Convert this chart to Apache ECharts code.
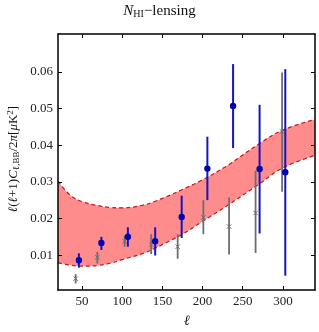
<!DOCTYPE html>
<html>
<head>
<meta charset="utf-8">
<script src="https://cdn.jsdelivr.net/npm/echarts@6/dist/echarts.min.js"></script>
<style>
html,body{margin:0;padding:0;background:#fff;}
#chart{width:319px;height:332px;}
</style>
</head>
<body>
<div id="chart"></div>
<script>
// ---- data ----
var bandL     = [20, 35, 50, 70, 85, 100, 125, 141, 160, 175, 197, 230, 270, 300, 340];
var bandUpper = [0.0302, 0.0264, 0.0246, 0.0235, 0.0230, 0.0229, 0.0236, 0.0247, 0.0264, 0.0279, 0.0302, 0.0343, 0.0403, 0.0441, 0.0470];
var bandLower = [0.0079, 0.0073, 0.0070, 0.0072, 0.0078, 0.0088, 0.0104, 0.0119, 0.0140, 0.0157, 0.0188, 0.0234, 0.0293, 0.0338, 0.0372];

var blueL  = [46, 74, 107, 141, 174, 206, 238, 271, 303];
var blueV  = [0.0086, 0.0133, 0.0150, 0.0138, 0.0204, 0.0336, 0.0507, 0.0335, 0.0326];
var blueLo = [0.0066, 0.0114, 0.0123, 0.0099, 0.0147, 0.0250, 0.0392, 0.0159, 0.0044];
var blueHi = [0.0105, 0.0150, 0.0176, 0.0176, 0.0262, 0.0423, 0.0621, 0.0510, 0.0607];

var grayL  = [42, 69, 103, 136, 169, 201, 233, 266, 299];
var grayV  = [0.0036, 0.0094, 0.0138, 0.0129, 0.0123, 0.0203, 0.0178, 0.0215, 0.0437];
var grayLo = [0.0023, 0.0077, 0.0123, 0.0103, 0.0090, 0.0157, 0.0102, 0.0106, 0.0273];
var grayHi = [0.0048, 0.0109, 0.0153, 0.0157, 0.0157, 0.0250, 0.0257, 0.0330, 0.0598];

var xTicks = [50, 100, 150, 200, 250, 300];
var yTicks = [0.01, 0.02, 0.03, 0.04, 0.05, 0.06];

// ---- build ----
var SERIF = '"Liberation Serif","DejaVu Serif",serif';
function pairs(xs, ys){ return xs.map(function(x,i){ return [x, ys[i]]; }); }
function rows(xs, v, lo, hi){ return xs.map(function(x,i){ return [x, v[i], lo[i], hi[i]]; }); }

var chart = echarts.init(document.getElementById('chart'), null, {renderer:'canvas'});

function xAx(pos, labels){
  return {
    type:'value', min:20, max:340, position:pos, z:10,
    axisLine:{show:true, onZero:false, lineStyle:{color:'#000', width:1.5}},
    axisTick:{show:true, inside:true, length:4, customValues:xTicks, lineStyle:{color:'#000', width:1}},
    axisLabel:{show:labels, customValues:xTicks, fontFamily:SERIF, fontSize:13, color:'#222', margin:5},
    splitLine:{show:false}
  };
}
function yAx(pos, labels){
  return {
    type:'value', min:0.0005, max:0.0703, position:pos, z:10,
    axisLine:{show:true, onZero:false, lineStyle:{color:'#000', width:1.5}},
    axisTick:{show:true, inside:true, length:4, customValues:yTicks, lineStyle:{color:'#000', width:1}},
    axisLabel:{show:labels, customValues:yTicks, fontFamily:SERIF, fontSize:13, color:'#222', margin:5,
      formatter:function(v){ return v.toFixed(2); }},
    splitLine:{show:false}
  };
}

function errRender(color, lw, kind){
  return function(params, api){
    var x = api.value(0);
    var c  = api.coord([x, api.value(1)]);
    var lo = api.coord([x, api.value(2)]);
    var hi = api.coord([x, api.value(3)]);
    var ch = [{type:'line', shape:{x1:lo[0], y1:lo[1], x2:hi[0], y2:hi[1]}, style:{stroke:color, lineWidth:lw}}];
    if (kind === 'dot') {
      ch.push({type:'circle', shape:{cx:c[0], cy:c[1], r:3.2}, style:{fill:'#0000b4'}});
    } else {
      var s = 2.2;
      ch.push({type:'line', shape:{x1:c[0]-s, y1:c[1]-s, x2:c[0]+s, y2:c[1]+s}, style:{stroke:color, lineWidth:1}});
      ch.push({type:'line', shape:{x1:c[0]+s, y1:c[1]-s, x2:c[0]-s, y2:c[1]+s}, style:{stroke:color, lineWidth:1}});
    }
    return {type:'group', children:ch};
  };
}

var option = {
  animation:false,
  backgroundColor:'#fff',
  grid:{left:58, right:4, top:34, bottom:42, containLabel:false},
  xAxis:[xAx('bottom', true), xAx('top', false)],
  yAxis:[yAx('left', true), yAx('right', false)],
  series:[
    {type:'line', data:pairs(bandL, bandUpper), smooth:0.4, symbol:'none',
      lineStyle:{opacity:0}, areaStyle:{color:'#ff8c8c', opacity:1, origin:'start'}, silent:true, z:1},
    {type:'line', data:pairs(bandL, bandLower), smooth:0.4, symbol:'none',
      lineStyle:{opacity:0}, areaStyle:{color:'#ffffff', opacity:1, origin:'start'}, silent:true, z:1},
    {type:'line', data:pairs(bandL, bandUpper), smooth:0.4, symbol:'none',
      lineStyle:{color:'#c0181c', width:1.2, type:[4,3]}, z:2},
    {type:'line', data:pairs(bandL, bandLower), smooth:0.4, symbol:'none',
      lineStyle:{color:'#c0181c', width:1.2, type:[4,3]}, z:2},
    {type:'custom', data:rows(grayL, grayV, grayLo, grayHi), renderItem:errRender('#6e6e6e', 1.8, 'x'), z:3},
    {type:'custom', data:rows(blueL, blueV, blueLo, blueHi), renderItem:errRender('#1515c0', 2, 'dot'), z:4}
  ],
  graphic:[
    {type:'text', left:'center', top:3, z:10,
      style:{
        text:'{n|N}{s|HI}{t|−lensing}',
        rich:{
          n:{fontFamily:SERIF, fontStyle:'italic', fontSize:15, fill:'#111', lineHeight:20, verticalAlign:'middle'},
          s:{fontFamily:SERIF, fontSize:10, fill:'#111', lineHeight:20, padding:[6,0,0,0], verticalAlign:'middle'},
          t:{fontFamily:SERIF, fontSize:15, fill:'#111', lineHeight:20, verticalAlign:'middle'}
        }
      }
    },
    {type:'text', x:187, y:321, z:10,
      style:{text:'ℓ', fontFamily:SERIF, fontStyle:'italic', fontSize:14, fill:'#111', align:'center', verticalAlign:'middle'}
    },
    {type:'text', x:14, y:159, rotation:Math.PI/2, z:10,
      style:{
        text:'{i|ℓ}{r|(}{i|ℓ}{r|+1)}{i|C}{s|ℓ,BB}{r|/2}{i|π}{r|[}{i|μ}{r|K}{p|2}{r|]}',
        align:'center', verticalAlign:'middle',
        rich:{
          i:{fontFamily:SERIF, fontStyle:'italic', fontSize:13, fill:'#111', lineHeight:18},
          r:{fontFamily:SERIF, fontSize:13, fill:'#111', lineHeight:18},
          s:{fontFamily:SERIF, fontSize:9, fill:'#111', lineHeight:18, padding:[6,0,0,0]},
          p:{fontFamily:SERIF, fontSize:9, fill:'#111', lineHeight:18, padding:[0,0,6,0]}
        }
      }
    }
  ]
};
chart.setOption(option);
</script>
</body>
</html>
